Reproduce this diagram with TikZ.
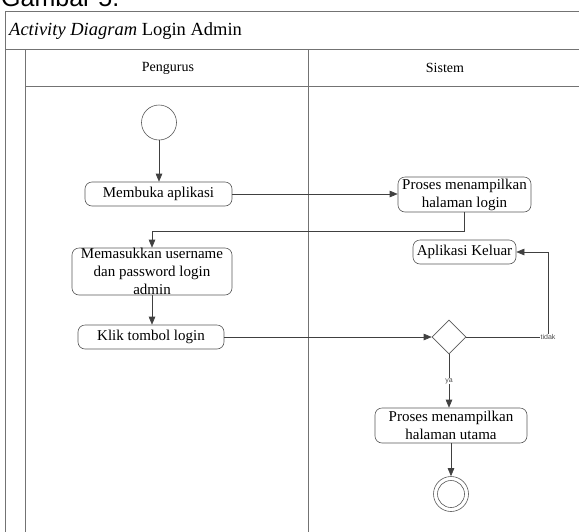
\documentclass[tikz,border=0pt]{standalone}
\usepackage{fontspec}
\setmainfont{Liberation Serif}
\newfontfamily\arialf{Liberation Sans}
\usetikzlibrary{arrows.meta,shapes.geometric}
\begin{document}
\begin{tikzpicture}[x=1pt,y=-1pt,
  frameline/.style={draw=black!55, line width=0.9pt},
  act/.style={draw=black!65, line width=0.6pt, rounded corners=7pt, align=center, inner sep=0pt, font=\fontsize{15}{18}\selectfont},
  conn/.style={draw=black!75, line width=0.6pt, -{Triangle[length=8pt,width=6.5pt]}},
  lbl/.style={font=\arialf\fontsize{7}{8}\selectfont, text=black!70, fill=white, inner sep=0.6pt},
  hdr/.style={font=\fontsize{14}{16}\selectfont}]
\useasboundingbox (0,0) rectangle (579,531);
% caption (cut off at top, as in the reference)
\node[anchor=base west, inner sep=0pt, font=\arialf\fontsize{25}{25}\selectfont] (cap) at (1,6) {Gambar 5.};
% frame
\draw[frameline] (5,545) -- (5,11) -- (600,11);
\draw[frameline] (5,49) -- (600,49);
\draw[frameline] (25,49) -- (25,545);
\draw[frameline] (25,86) -- (600,86);
\draw[frameline] (308,49) -- (308,545);
\node[anchor=west, inner sep=0pt, font=\fontsize{18.5}{20}\selectfont] (title) at (9,31) {\textit{Activity Diagram} Login Admin};
\node[hdr] (h1) at (168,68) {Pengurus};
\node[hdr] (h2) at (445,68) {Sistem};
% nodes
\node[circle, draw=black!65, line width=0.6pt, minimum size=35pt, inner sep=0pt] (start) at (159,122.5) {};
\node[act, minimum width=147pt, minimum height=24pt] (buka) at (158.5,194) {Membuka aplikasi};
\node[act, minimum width=133pt, minimum height=35pt] (login) at (464.5,194.5) {Proses menampilkan\\halaman login};
\node[act, minimum width=160pt, minimum height=47pt] (masuk) at (152,271.5) {Memasukkan username\\dan password login\\admin};
\node[act, minimum width=146pt, minimum height=24pt] (klik) at (151,337) {Klik tombol login};
\node[diamond, aspect=1, draw=black!65, line width=0.6pt, minimum size=34pt, inner sep=0pt] (dec) at (449,337) {};
\node[act, minimum width=103pt, minimum height=24pt] (keluar) at (464.5,252) {Aplikasi Keluar};
\node[act, minimum width=152pt, minimum height=35pt] (utama) at (451,425.5) {Proses menampilkan\\halaman utama};
\node[circle, draw=black!65, line width=0.6pt, minimum size=35pt, inner sep=0pt] (end) at (451,494) {};
\node[circle, draw=black!65, line width=0.6pt, minimum size=27pt, inner sep=0pt] (endin) at (end.center) {};
\coordinate (tk) at (548,337);
% connectors
\draw[conn] (start) -- (start |- buka.north);
\draw[conn] (buka.east) -- (buka.east -| login.west);
\draw[conn] (login.south) -- ++(0,19) -| (masuk.north);
\draw[conn] (masuk.south) -- (masuk.south |- klik.north);
\draw[conn] (klik.east) -- (dec.west);
\draw[conn] (dec.east) -- (tk) |- (keluar.east);
\node[lbl] (tidak) at (tk) {tidak};
\draw[conn] (dec.south) -- (dec.south |- utama.north) node[lbl, pos=0.5] (ya) {ya};
\draw[conn] (utama.south) -- (end.north);
\end{tikzpicture}
\end{document}
